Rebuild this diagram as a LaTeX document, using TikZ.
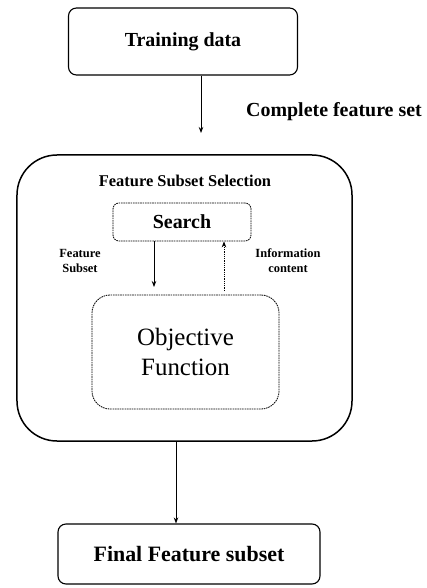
\documentclass[tikz,border=0pt]{standalone}
\usepackage{fontspec}
\setmainfont{Liberation Serif}
\usetikzlibrary{arrows.meta}
\begin{document}
\begin{tikzpicture}[x=1bp,y=-1bp,
  solidbox/.style={draw, line width=1.1bp, rounded corners=8bp, inner sep=0pt},
  dotbox/.style={draw, line width=0.8bp, dash pattern=on 1.6bp off 0.8bp, inner sep=0pt},
  arr/.style={-{Stealth[length=6bp,width=4.5bp]}, line width=0.8bp},
  lbl/.style={font=\bfseries\fontsize{12.5}{15}\selectfont, align=center, inner sep=0pt},
  bigtext/.style={font=\bfseries\fontsize{20}{24}\selectfont, inner sep=0pt}
]
\useasboundingbox (0,0) rectangle (426,588);
\node[solidbox, minimum width=229bp, minimum height=67bp, bigtext] (train) at (183,41.5) {Training data};
\node[bigtext] (complete) at (334,112) {Complete feature set};
\node[draw, line width=1.5bp, rounded corners=40bp, minimum width=335bp, minimum height=286bp, inner sep=0pt] (big) at (184.5,298) {};
\node[font=\bfseries\fontsize{16.5}{20}\selectfont, inner sep=0pt] (title) at (185,181) {Feature Subset Selection};
\node[dotbox, rounded corners=6bp, minimum width=138bp, minimum height=38bp, bigtext] (search) at (182,222) {Search};
\node[dotbox, rounded corners=18bp, minimum width=187bp, minimum height=114bp, align=center, font=\fontsize{25}{30}\selectfont] (obj) at (185.5,352) {Objective\\Function};
\node[lbl] (fs) at (80,261) {Feature\\Subset};
\node[lbl] (ic) at (288,261) {Information\\content};
\node[solidbox, minimum width=262bp, minimum height=60bp, font=\bfseries\fontsize{22}{26}\selectfont] (final) at (189,554) {Final Feature subset};
\coordinate (t1) at (201,133);
\draw[arr] (train.south -| t1) -- (t1);
\coordinate (s1) at (154,287);
\draw[arr] (search.south -| s1) -- (s1);
\coordinate (o1) at (224,291);
\draw[arr, densely dotted] (o1) -- (search.south -| o1);
\coordinate (f1) at (176,0);
\draw[arr] (big.south -| f1) -- (final.north -| f1);
\end{tikzpicture}
\end{document}
